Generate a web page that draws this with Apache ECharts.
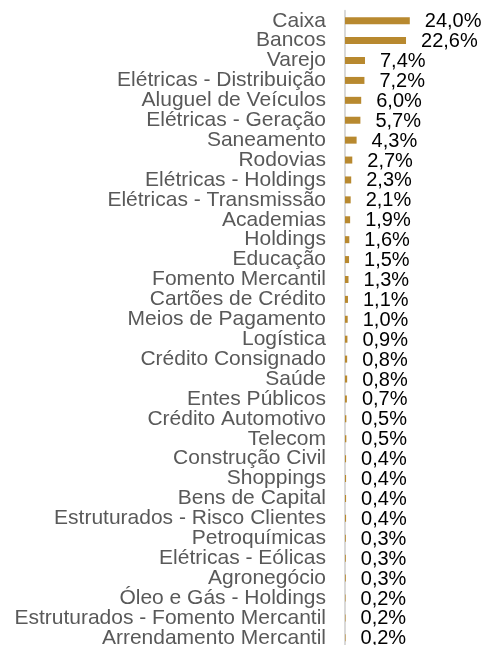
<!DOCTYPE html>
<html>
<head>
<meta charset="utf-8">
<script src="https://cdn.jsdelivr.net/npm/echarts@6/dist/echarts.min.js"></script>
<style>
html, body { margin: 0; padding: 0; background: #fff; }
#chart { width: 487px; height: 645px; }
</style>
</head>
<body>
<div id="chart"></div>
<script>
var categories = ['Caixa', 'Bancos', 'Varejo', 'Elétricas - Distribuição', 'Aluguel de Veículos',
    'Elétricas - Geração', 'Saneamento', 'Rodovias', 'Elétricas - Holdings', 'Elétricas - Transmissão',
    'Academias', 'Holdings', 'Educação', 'Fomento Mercantil', 'Cartões de Crédito',
    'Meios de Pagamento', 'Logística', 'Crédito Consignado', 'Saúde', 'Entes Públicos',
    'Crédito Automotivo', 'Telecom', 'Construção Civil', 'Shoppings', 'Bens de Capital',
    'Estruturados - Risco Clientes', 'Petroquímicas', 'Elétricas - Eólicas', 'Agronegócio',
    'Óleo e Gás - Holdings', 'Estruturados - Fomento Mercantil', 'Arrendamento Mercantil'];
var values = [24.0, 22.6, 7.4, 7.2, 6.0, 5.7, 4.3, 2.7, 2.3, 2.1, 1.9, 1.6, 1.5, 1.3, 1.1,
    1.0, 0.9, 0.8, 0.8, 0.7, 0.5, 0.5, 0.4, 0.4, 0.4, 0.4, 0.3, 0.3, 0.3, 0.2, 0.2, 0.2];

var myChart = echarts.init(document.getElementById('chart'));
myChart.setOption({
    animation: false,
    grid: { left: 345, top: 10.75, width: 135, height: 637, outerBoundsMode: 'none', containLabel: false },
    xAxis: {
        type: 'value',
        min: 0,
        max: 50,
        show: false,
        splitLine: { show: false }
    },
    yAxis: {
        type: 'category',
        data: categories,
        inverse: true,
        axisTick: { show: false },
        axisLine: { show: true, lineStyle: { color: '#d9d9d9', width: 2 } },
        axisLabel: {
            interval: 0,
            color: '#595959',
            fontFamily: 'Liberation Sans',
            fontSize: 21,
            margin: 19,
            lineHeight: 20
        }
    },
    series: [{
        type: 'bar',
        data: values,
        barWidth: 7,
        itemStyle: { color: '#b8892f' },
        label: {
            show: true,
            position: 'right',
            distance: 15,
            offset: [0, 1],
            color: '#000',
            fontFamily: 'Liberation Sans',
            fontSize: 20,
            formatter: function (p) {
                return p.value.toFixed(1).replace('.', ',') + '%';
            }
        }
    }]
});
</script>
</body>
</html>
